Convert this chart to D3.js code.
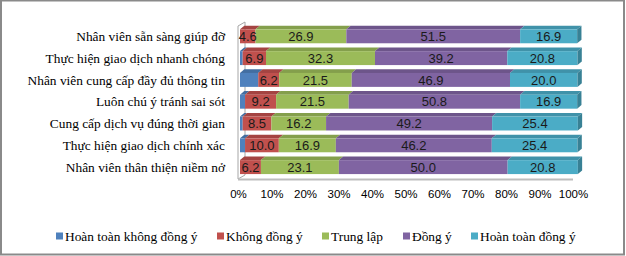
<!DOCTYPE html>
<html>
<head>
<meta charset="utf-8">
<script src="https://cdn.jsdelivr.net/npm/d3@7"></script>
<style>
  body { margin: 0; background: #fff; }
  svg { display: block; }
</style>
</head>
<body>
<div id="chart-area"></div>
<script>
const W = 626, H = 256;

// categories, top to bottom
const categories = [
  "Nhân viên sẵn sàng giúp đỡ",
  "Thực hiện giao dịch nhanh chóng",
  "Nhân viên cung cấp đầy đủ thông tin",
  "Luôn chú ý tránh sai sót",
  "Cung cấp dịch vụ đúng thời gian",
  "Thực hiện giao dịch chính xác",
  "Nhân viên thân thiện niềm nở"
];
const seriesNames = ["Hoàn toàn không đồng ý", "Không đồng ý", "Trung lập", "Đồng ý", "Hoàn toàn đồng ý"];
const stronglyDisagree = [0.0, 0.8, 5.4, 1.5, 0.8, 1.5, 0.0];
const disagree         = [4.6, 6.9, 6.2, 9.2, 8.5, 10.0, 6.2];
const neutral          = [26.9, 32.3, 21.5, 21.5, 16.2, 16.9, 23.1];
const agree            = [51.5, 39.2, 46.9, 50.8, 49.2, 46.2, 50.0];
const stronglyAgree    = [16.9, 20.8, 20.0, 16.9, 25.4, 25.4, 20.8];
const tickValues = [0, 10, 20, 30, 40, 50, 60, 70, 80, 90, 100];
const colors = ["#4F81BD", "#C0504D", "#9BBB59", "#8064A2", "#4BACC6"];

const allSeries = [stronglyDisagree, disagree, neutral, agree, stronglyAgree];
const rows = categories.map((c, i) => {
  const r = { cat: c };
  seriesNames.forEach((s, j) => r[s] = allSeries[j][i]);
  return r;
});
const stacked = d3.stack().keys(seriesNames)(rows);

const svg = d3.select("#chart-area").append("svg")
  .attr("width", W).attr("height", H);

svg.append("rect")
  .attr("x", 1).attr("y", 0.5).attr("width", 623).attr("height", 254)
  .attr("fill", "#fff").attr("stroke", "#8a8a8a").attr("stroke-width", 2);

// front floor edge scale (axis) and bar front-face scale (bars sit a bit deeper)
const xAxisScale = d3.scaleLinear().domain([0, 100]).range([238, 573]);
const x = d3.scaleLinear().domain([0, 100]).range([240, 577.5]);
const y = d3.scaleBand().domain(categories).range([25.4, 178])
  .paddingInner(0.36).paddingOuter(0.18);

const wallDx = 7, wallDy = -4;   // wall depth
const barDx = 4.3, barDy = -3.6; // bar depth
const floorY = 179;

// walls
const walls = svg.append("g").attr("fill", "none").attr("stroke", "#a6a6a6").attr("stroke-width", 1);
walls.append("path").attr("d", `M${xAxisScale(0)},${floorY} L${xAxisScale(0)},26 L${xAxisScale(0) + wallDx},${26 + wallDy} L${xAxisScale(0) + wallDx},${floorY + wallDy}`);
walls.append("path").attr("d", `M${xAxisScale(0)},${floorY} L${xAxisScale(0) + wallDx},${floorY + wallDy}`);
svg.append("line")
  .attr("x1", xAxisScale(0)).attr("x2", xAxisScale(100))
  .attr("y1", floorY + 0.5).attr("y2", floorY + 0.5)
  .attr("stroke", "#bdbdbd").attr("stroke-width", 2);

// 3D bars
const bars = svg.append("g");
stacked.forEach((layer, j) => {
  const col = d3.color(colors[j]);
  const g = bars.append("g");
  layer.forEach((d, i) => {
    const x0 = x(d[0]), x1 = x(d[1]);
    const y0 = y(categories[i]), h = y.bandwidth();
    if (x1 - x0 <= 0) return;
    // top face
    g.append("path")
      .attr("d", `M${x0},${y0} L${x0 + barDx},${y0 + barDy} L${x1 + barDx},${y0 + barDy} L${x1},${y0} Z`)
      .attr("fill", col.darker(0.45));
    // front face
    g.append("rect")
      .attr("x", x0).attr("y", y0).attr("width", x1 - x0).attr("height", h)
      .attr("fill", col);
    // right side face for the last segment
    if (j === seriesNames.length - 1) {
      g.append("path")
        .attr("d", `M${x1},${y0} L${x1 + barDx},${y0 + barDy} L${x1 + barDx},${y0 + h + barDy} L${x1},${y0 + h} Z`)
        .attr("fill", col.darker(0.8));
    }
  });
});

// data labels (no labels for first series)
const labels = svg.append("g")
  .attr("font-family", "'Liberation Sans', Arial, sans-serif")
  .attr("font-size", 13).attr("fill", "#1a1a1a").attr("text-anchor", "middle");
stacked.slice(1).forEach(layer => {
  layer.forEach((d, i) => {
    labels.append("text")
      .attr("x", (x(d[0]) + x(d[1])) / 2)
      .attr("y", y(categories[i]) + y.bandwidth() / 2 + 4.6)
      .text(d3.format(".1f")(d[1] - d[0]));
  });
});

// category labels
svg.append("g")
  .attr("font-family", "'Liberation Serif', 'Times New Roman', serif")
  .attr("font-size", 13.4).attr("fill", "#000").attr("text-anchor", "end")
  .selectAll("text").data(categories).join("text")
  .attr("x", 225)
  .attr("y", d => y(d) + y.bandwidth() / 2 + 4.6)
  .text(d => d);

// x axis tick labels
const xAxis = d3.axisBottom(xAxisScale).tickValues(tickValues)
  .tickFormat(d => d + "%").tickSize(0).tickPadding(0);
const ax = svg.append("g").attr("transform", `translate(0,${floorY + 11})`).call(xAxis);
ax.select(".domain").remove();
ax.selectAll("text")
  .attr("font-family", "'Liberation Sans', Arial, sans-serif")
  .attr("font-size", 11.5).attr("fill", "#000");

// legend
const legendX = [56, 217, 322, 403, 471];
const legend = svg.append("g")
  .attr("font-family", "'Liberation Serif', 'Times New Roman', serif")
  .attr("font-size", 13.4).attr("fill", "#000");
seriesNames.forEach((s, j) => {
  const g = legend.append("g").attr("transform", `translate(${legendX[j]},236)`);
  g.append("rect").attr("x", 0).attr("y", -3.5).attr("width", 7).attr("height", 7).attr("fill", colors[j]);
  g.append("text").attr("x", 9).attr("y", 4.6).text(s);
});
</script>
</body>
</html>
